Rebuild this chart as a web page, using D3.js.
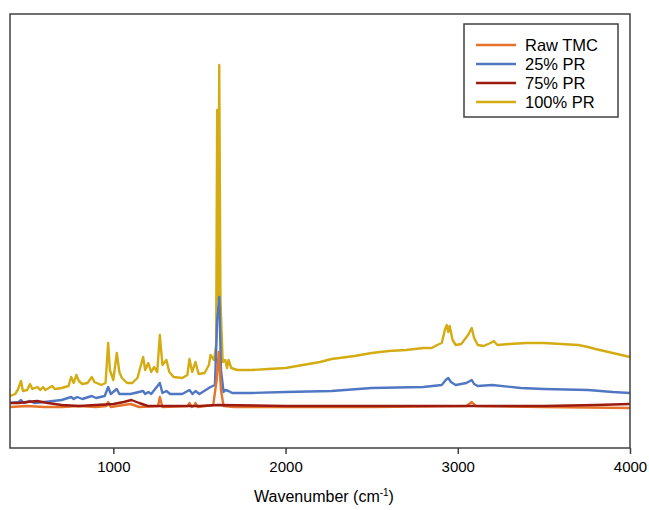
<!DOCTYPE html>
<html>
<head>
<meta charset="utf-8">
<script src="https://cdn.jsdelivr.net/npm/d3@7"></script>
<style>
  html, body { margin: 0; padding: 0; background: #fff; }
  svg { display: block; font-family: "Liberation Sans", Arial, sans-serif; }
</style>
</head>
<body>
<svg id="chart" width="649" height="510"></svg>
<script>
// Raman spectra: [wavenumber (cm-1), intensity (a.u.)]
const rawTMC = [
  [400,41],[500,42],[600,41],[700,41],[800,42],[900,41],[960,42],[970,46],[985,41],
  [1060,43],[1100,44],[1150,41],[1260,42],[1270,51],[1285,41],[1432,42],[1442,45],[1455,41],
  [1470,42],[1477,45],[1490,41],[1580,43],[1600,68],[1612,96],[1625,58],[1640,42],
  [1700,41],[2000,41],[2500,41],[3050,42],[3081,46],[3105,42],[3500,41],[4000,40]
];
const pr25 = [
  [400,45],[450,46],[464,48],[480,45],[516,47],[540,45],[600,46],[700,48],[755,51],[770,49],
  [790,51],[820,49],[875,52],[900,50],[950,52],[970,61],[985,54],[1020,59],[1035,54],[1100,54],
  [1173,57],[1185,54],[1203,56],[1220,54],[1270,65],[1285,55],[1308,57],[1330,54],[1400,54],
  [1442,58],[1460,54],[1477,57],[1500,54],[1564,61],[1590,63],[1603,128],[1615,151],[1625,78],
  [1640,56],[1650,58],[1669,57],[1690,55],[1800,55],[2000,56],[2267,57],[2500,60],[2800,61],
  [2907,63],[2930,68],[2945,70],[2960,66],[2988,63],[3050,65],[3081,68],[3095,64],[3116,62],
  [3200,63],[3366,60],[3500,59],[3756,58],[3900,56],[4000,55]
];
const pr75 = [
  [400,45],[450,45],[500,46],[557,47],[620,45],[700,43],[800,42],[900,43],[1000,44],
  [1060,46],[1105,48],[1150,45],[1200,42],[1500,42],[1612,43],[2000,42],[3000,42],
  [3500,42],[3800,43],[4000,44]
];
const pr100 = [
  [400,52],[430,54],[445,58],[464,67],[475,57],[500,58],[516,64],[530,59],[560,61],[575,58],
  [592,61],[605,58],[645,62],[660,59],[700,60],[740,62],[755,71],[770,65],[785,73],[800,67],
  [820,64],[850,65],[875,71],[890,66],[930,63],[955,65],[970,105],[980,78],[1000,68],[1020,95],
  [1035,76],[1050,70],[1080,65],[1110,65],[1140,70],[1173,91],[1185,78],[1203,85],[1220,76],
  [1237,81],[1255,76],[1270,113],[1285,83],[1308,88],[1325,76],[1350,71],[1400,70],[1430,73],
  [1442,89],[1458,76],[1477,86],[1495,74],[1530,75],[1555,83],[1564,93],[1585,88],[1597,103],
  [1603,338],[1608,148],[1615,383],[1622,148],[1635,86],[1650,88],[1660,80],[1669,88],[1685,80],
  [1720,78],[1800,78],[1900,79],[2000,80],[2100,83],[2200,86],[2267,89],[2400,92],[2500,95],
  [2600,97],[2700,98],[2800,100],[2849,100],[2880,103],[2907,105],[2925,118],[2936,123],
  [2945,116],[2953,122],[2970,108],[2988,103],[3020,104],[3060,113],[3081,120],[3095,110],
  [3116,103],[3150,102],[3190,105],[3209,107],[3230,103],[3300,104],[3400,105],[3500,105],
  [3600,104],[3700,103],[3756,101],[3800,99],[3850,97],[3900,95],[3950,93],[4000,91]
];

const seriesNames = ["Raw TMC", "25% PR", "75% PR", "100% PR"];
const seriesColors = ["#E5742A", "#5077C3", "#9C1A10", "#D4AC12"];
const seriesData = [rawTMC, pr25, pr75, pr100];
const xTicks = [1000, 2000, 3000, 4000];

const svg = d3.select("#chart");
const plot = { left: 10, right: 630, top: 14, bottom: 448 };

const x = d3.scaleLinear().domain([400, 4000]).range([plot.left, plot.right]);
const y = d3.scaleLinear().domain([0, 434]).range([plot.bottom, plot.top]);

const line = d3.line().x(d => x(d[0])).y(d => y(d[1]));

// spectra, the 100% PR trace underneath and raw TMC drawn over it
const drawOrder = [3, 1, 0, 2];
svg.append("g")
  .selectAll("path")
  .data(drawOrder)
  .join("path")
  .attr("d", i => line(seriesData[i]))
  .attr("fill", "none")
  .attr("stroke", i => seriesColors[i])
  .attr("stroke-width", 2.4)
  .attr("stroke-linejoin", "round");

// frame
svg.append("rect")
  .attr("x", plot.left).attr("y", plot.top)
  .attr("width", plot.right - plot.left).attr("height", plot.bottom - plot.top)
  .attr("fill", "none").attr("stroke", "#404040").attr("stroke-width", 1.5);

// bottom axis
const xAxis = svg.append("g")
  .attr("transform", `translate(0,${plot.bottom})`)
  .call(d3.axisBottom(x).tickValues(xTicks).tickSize(6).tickPadding(7).tickFormat(d3.format("d")));
xAxis.select(".domain").remove();
xAxis.selectAll(".tick line").attr("stroke", "#404040").attr("stroke-width", 1.5);
xAxis.selectAll(".tick text")
  .attr("fill", "#000").style("font-size", "15px")
  .style("font-family", "'Liberation Sans', Arial, sans-serif");

// axis title
const title = svg.append("text")
  .attr("x", (plot.left + plot.right) / 2 + 4).attr("y", 502)
  .attr("text-anchor", "middle")
  .style("font-size", "16px").attr("fill", "#000");
title.append("tspan").text("Wavenumber (cm");
title.append("tspan").attr("dy", -6).style("font-size", "10px").text("-1");
title.append("tspan").attr("dy", 6).text(")");

// legend
const legend = svg.append("g");
legend.append("rect")
  .attr("x", 464).attr("y", 24).attr("width", 154).attr("height", 93)
  .attr("fill", "#fff").attr("stroke", "#404040").attr("stroke-width", 1.5);
const rows = legend.selectAll("g.row")
  .data(seriesNames)
  .join("g")
  .attr("class", "row")
  .attr("transform", (d, i) => `translate(0,${45 + i * 19})`);
rows.append("line")
  .attr("x1", 476).attr("x2", 516)
  .attr("stroke", (d, i) => seriesColors[i]).attr("stroke-width", 2.4);
rows.append("text")
  .attr("x", 525).attr("y", 5.5)
  .style("font-size", "16.5px").attr("fill", "#000")
  .text(d => d);
</script>
</body>
</html>
